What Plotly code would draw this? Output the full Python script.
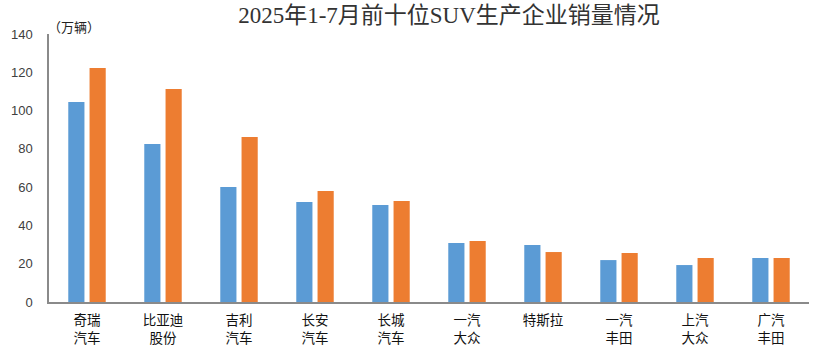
import plotly.graph_objects as go

categories = ["奇瑞<br>汽车", "比亚迪<br>股份", "吉利<br>汽车", "长安<br>汽车", "长城<br>汽车",
              "一汽<br>大众", "特斯拉<br> ", "一汽<br>丰田", "上汽<br>大众", "广汽<br>丰田"]
series_a = [104.5, 82.5, 60.1, 52.2, 50.7, 30.8, 29.8, 21.9, 19.3, 23.0]
series_b = [122.3, 111.3, 86.2, 58.0, 52.8, 31.9, 26.1, 25.6, 23.0, 23.0]
y_ticks = [0, 20, 40, 60, 80, 100, 120, 140]

cjk = "Noto Sans CJK SC"

fig = go.Figure()
fig.add_trace(go.Bar(x=categories, y=series_a, marker=dict(color="#5B9BD5", line=dict(width=0)),
                     name="A", showlegend=False))
fig.add_trace(go.Bar(x=categories, y=series_b, marker=dict(color="#ED7D31", line=dict(width=0)),
                     name="B", showlegend=False))

fig.update_layout(
    width=822, height=350,
    margin=dict(l=49, r=13, t=34, b=48, autoexpand=False),
    paper_bgcolor="white", plot_bgcolor="white",
    barmode="group", bargap=0.44, bargroupgap=0.24,
    title=dict(text="2025年1-7月前十位SUV生产企业销量情况",
               font=dict(family="Liberation Serif, " + cjk, size=23, color="#333333"),
               x=449/822, xanchor="center", y=1 - 15/350, yanchor="middle"),
    xaxis=dict(showline=True, linecolor="#8a8a8a", linewidth=2, ticks="",
               tickfont=dict(family=cjk, size=13.5, color="#111111"),
               showgrid=False, zeroline=False, ticklabelstandoff=5, automargin=False),
    yaxis=dict(range=[0, 140], tickvals=y_ticks, showline=True, linecolor="#8a8a8a", linewidth=1.5,
               ticks="", showgrid=False, zeroline=False, automargin=False,
               tickfont=dict(family="Liberation Sans, " + cjk, size=13, color="#404040"),
               ticklabelstandoff=12),
    annotations=[dict(text="（万辆）", x=(46 - 49) / 760, y=(302 - 27) / 268,
                      xref="paper", yref="paper", showarrow=False,
                      font=dict(family=cjk, size=13, color="#222222"),
                      xanchor="left", yanchor="middle")],
)

fig.write_html("out.html")
